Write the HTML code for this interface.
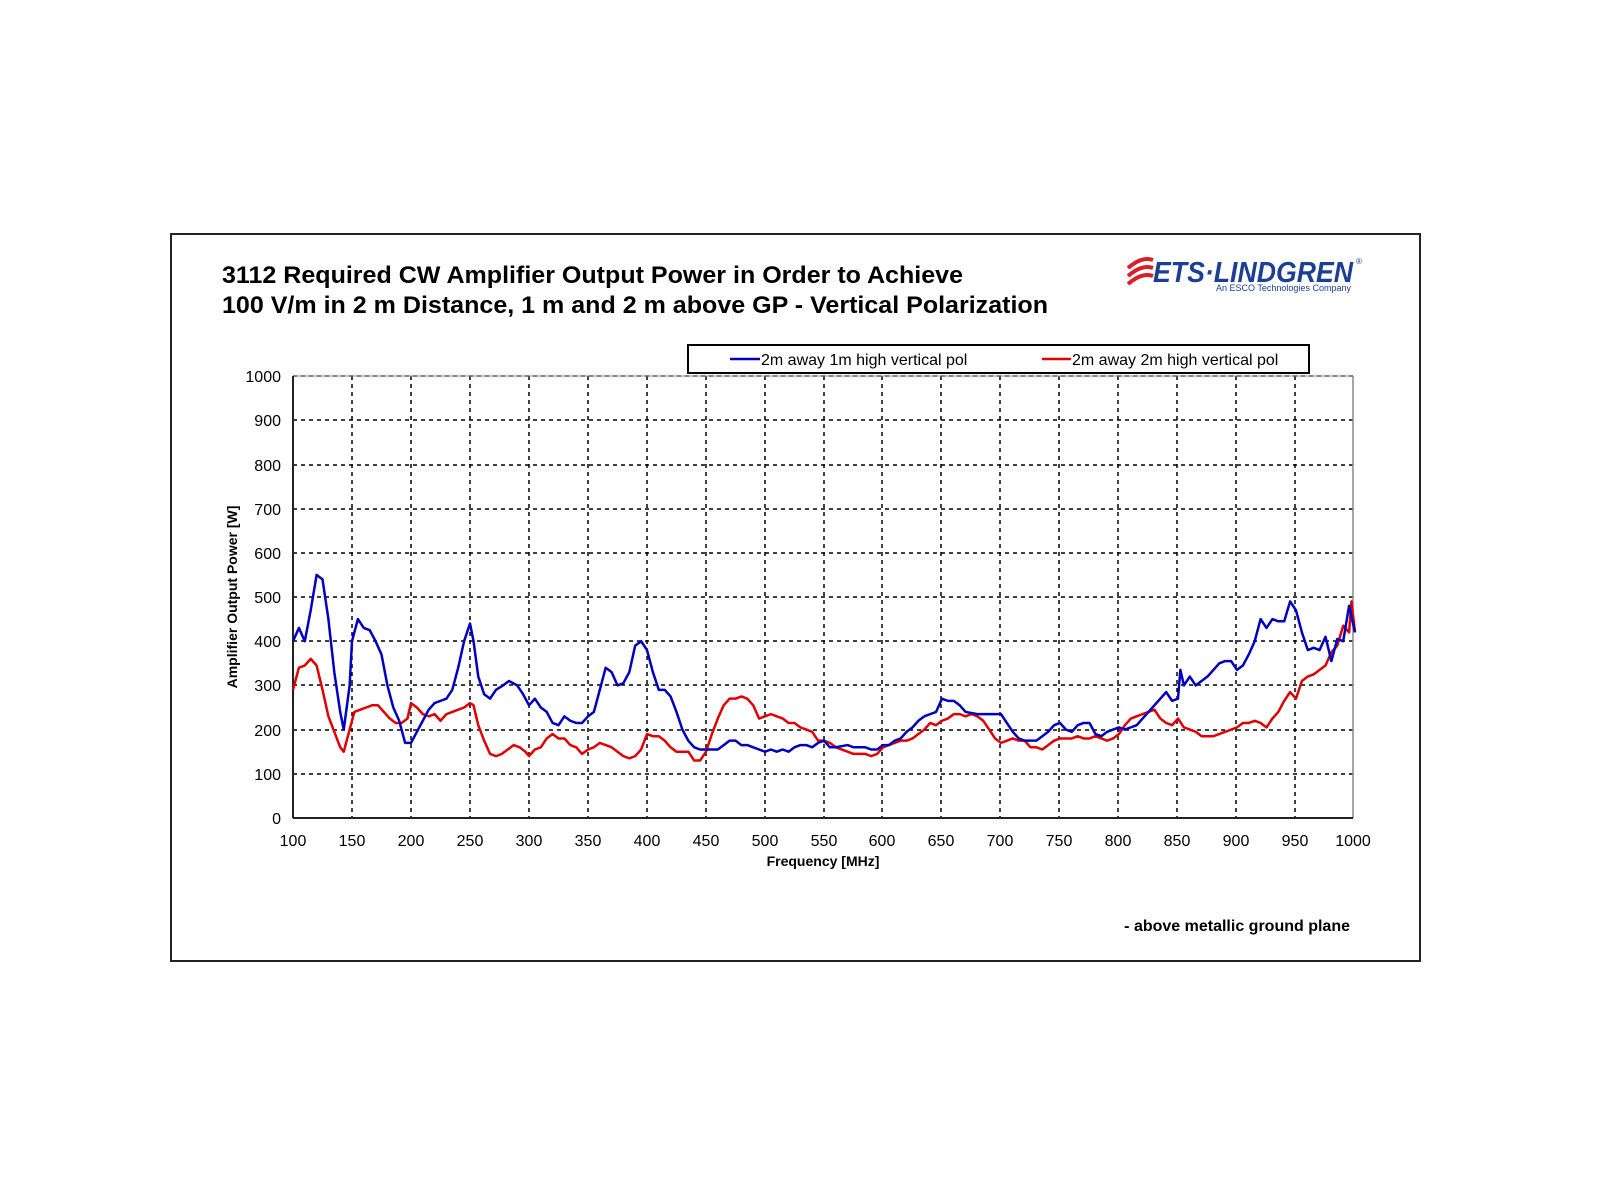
<!DOCTYPE html>
<html><head><meta charset="utf-8"><style>
body{margin:0;background:#fff;width:1600px;height:1200px;overflow:hidden}
svg{display:block}
text{font-family:"Liberation Sans",Arial,sans-serif}
</style></head><body>
<svg width="1600" height="1200" viewBox="0 0 1600 1200">
<rect x="171" y="234" width="1249" height="727" fill="#fff" stroke="#222" stroke-width="2"/>
<text x="222" y="283" font-size="24" font-weight="bold" fill="#000" textLength="741" lengthAdjust="spacingAndGlyphs">3112 Required CW Amplifier Output Power in Order to Achieve</text>
<text x="222" y="313" font-size="24" font-weight="bold" fill="#000" textLength="826" lengthAdjust="spacingAndGlyphs">100 V/m in 2 m Distance, 1 m and 2 m above GP - Vertical Polarization</text>
<!-- logo -->
<g fill="#d8202a">
<path d="M1128 268 q14 -12 25 -8" stroke="#d8202a" stroke-width="4" fill="none"/>
<path d="M1128 276 q14 -12 25 -8" stroke="#d8202a" stroke-width="4" fill="none"/>
<path d="M1128 284 q14 -12 25 -8" stroke="#d8202a" stroke-width="4" fill="none"/>
</g>
<text x="1153" y="282" font-size="29" font-weight="bold" font-style="italic" fill="#1c3f94" textLength="200" lengthAdjust="spacingAndGlyphs">ETS·LINDGREN</text>
<text x="1356" y="264" font-size="8" fill="#1c3f94">®</text>
<text x="1216" y="291" font-size="9" fill="#1c3f94" textLength="135" lengthAdjust="spacingAndGlyphs">An ESCO Technologies Company</text>
<!-- legend -->
<rect x="688" y="345" width="621" height="28" fill="#fff" stroke="#000" stroke-width="2"/>
<line x1="730" y1="359" x2="760" y2="359" stroke="#0000c0" stroke-width="2.5"/>
<text x="761" y="365" font-size="16" fill="#000">2m away 1m high vertical pol</text>
<line x1="1042" y1="359" x2="1071" y2="359" stroke="#e00000" stroke-width="2.5"/>
<text x="1072" y="365" font-size="16" fill="#000">2m away 2m high vertical pol</text>
<!-- grid -->
<g stroke="#000" stroke-width="1.5" stroke-dasharray="4,4">
<line x1="293" x2="1353" y1="376" y2="376"/><line x1="293" x2="1353" y1="420" y2="420"/><line x1="293" x2="1353" y1="465" y2="465"/><line x1="293" x2="1353" y1="509" y2="509"/><line x1="293" x2="1353" y1="553" y2="553"/><line x1="293" x2="1353" y1="597" y2="597"/><line x1="293" x2="1353" y1="641" y2="641"/><line x1="293" x2="1353" y1="685" y2="685"/><line x1="293" x2="1353" y1="730" y2="730"/><line x1="293" x2="1353" y1="774" y2="774"/>
<line y1="376" y2="818" x1="352" x2="352"/><line y1="376" y2="818" x1="411" x2="411"/><line y1="376" y2="818" x1="470" x2="470"/><line y1="376" y2="818" x1="529" x2="529"/><line y1="376" y2="818" x1="588" x2="588"/><line y1="376" y2="818" x1="647" x2="647"/><line y1="376" y2="818" x1="706" x2="706"/><line y1="376" y2="818" x1="765" x2="765"/><line y1="376" y2="818" x1="824" x2="824"/><line y1="376" y2="818" x1="882" x2="882"/><line y1="376" y2="818" x1="941" x2="941"/><line y1="376" y2="818" x1="1000" x2="1000"/><line y1="376" y2="818" x1="1059" x2="1059"/><line y1="376" y2="818" x1="1118" x2="1118"/><line y1="376" y2="818" x1="1177" x2="1177"/><line y1="376" y2="818" x1="1236" x2="1236"/><line y1="376" y2="818" x1="1295" x2="1295"/>
</g>
<line x1="293" y1="376" x2="1353" y2="376" stroke="#888" stroke-width="1"/>
<line x1="1353" y1="376" x2="1353" y2="818" stroke="#888" stroke-width="1.5"/>
<line x1="293" y1="376" x2="293" y2="818" stroke="#222" stroke-width="2"/>
<line x1="293" y1="818" x2="1353" y2="818" stroke="#222" stroke-width="2"/>
<g font-size="16" fill="#000" text-anchor="end">
<text x="281" y="382">1000</text><text x="281" y="426">900</text><text x="281" y="471">800</text><text x="281" y="515">700</text><text x="281" y="559">600</text><text x="281" y="603">500</text><text x="281" y="647">400</text><text x="281" y="691">300</text><text x="281" y="736">200</text><text x="281" y="780">100</text><text x="281" y="824">0</text>
</g>
<g font-size="16" fill="#000" text-anchor="middle">
<text x="293" y="846">100</text><text x="352" y="846">150</text><text x="411" y="846">200</text><text x="470" y="846">250</text><text x="529" y="846">300</text><text x="588" y="846">350</text><text x="647" y="846">400</text><text x="706" y="846">450</text><text x="765" y="846">500</text><text x="824" y="846">550</text><text x="882" y="846">600</text><text x="941" y="846">650</text><text x="1000" y="846">700</text><text x="1059" y="846">750</text><text x="1118" y="846">800</text><text x="1177" y="846">850</text><text x="1236" y="846">900</text><text x="1295" y="846">950</text><text x="1353" y="846">1000</text>
</g>
<text x="823" y="866" font-size="14" font-weight="bold" text-anchor="middle">Frequency [MHz]</text>
<text transform="translate(237,597) rotate(-90)" font-size="14" font-weight="bold" text-anchor="middle">Amplifier Output Power [W]</text>
<text x="1350" y="931" font-size="16" font-weight="bold" text-anchor="end">- above metallic ground plane</text>
<g transform="translate(293,818) scale(1.18,-0.442)" fill="none">
<polyline vector-effect="non-scaling-stroke" stroke="#e00000" stroke-width="2.5" stroke-linejoin="round" points="0,290 5,340 10,345 15,360 20,345 25,290 30,230 35,195 40,160 43,150 48,200 52,240 57,245 62,250 67,255 72,255 77,240 82,225 87,215 92,215 97,225 100,260 105,250 110,235 115,230 120,235 125,220 130,235 135,240 140,245 145,250 150,260 153,255 157,210 162,175 167,145 172,140 177,145 182,155 187,165 192,160 197,150 200,140 205,155 210,160 215,180 220,190 225,180 230,180 235,165 240,160 245,145 250,155 255,160 260,170 265,165 270,160 275,150 280,140 285,135 290,140 295,155 300,190 305,185 310,185 315,175 320,160 325,150 330,150 335,150 340,130 345,130 350,150 355,190 360,225 365,255 370,270 375,270 380,275 385,270 390,255 395,225 400,230 405,235 410,230 415,225 420,215 425,215 430,205 435,200 440,195 445,175 450,175 455,170 460,160 470,150 475,145 480,145 485,145 490,140 495,145 500,160 505,165 510,170 515,175 520,175 525,180 530,190 535,200 540,215 545,210 550,220 555,225 560,235 565,235 570,230 575,235 580,230 585,220 590,200 595,180 600,170 605,175 610,180 615,175 620,175 625,160 630,160 635,155 640,165 645,175 650,180 660,180 665,185 670,180 675,180 680,185 685,180 690,175 695,180 700,190 705,210 710,225 715,230 720,235 725,240 730,245 735,225 740,215 745,210 750,225 755,205 760,200 765,195 770,185 780,185 790,195 800,205 805,215 810,215 815,220 820,215 825,205 830,225 835,240 840,265 845,285 850,270 855,310 860,320 865,325 870,335 875,345 880,375 885,390 890,435 895,420 897,490 900,420"/>
<polyline vector-effect="non-scaling-stroke" stroke="#0000c0" stroke-width="2.5" stroke-linejoin="round" points="0,400 5,430 10,400 15,470 20,550 25,540 30,450 35,330 40,240 43,200 48,300 50,400 55,450 60,430 65,425 70,400 75,370 80,300 85,250 90,220 95,170 100,170 105,195 110,220 115,245 120,260 125,265 130,270 135,290 140,340 145,400 150,440 153,400 157,320 162,280 167,270 172,290 178,300 183,310 190,300 195,280 200,255 205,270 210,250 215,240 220,215 225,210 230,230 235,220 240,215 245,215 250,230 255,240 260,290 265,340 270,330 275,300 280,305 285,330 290,390 295,400 300,380 305,330 310,290 315,290 320,275 325,240 330,200 335,175 340,160 345,155 360,155 365,165 370,175 375,175 380,165 385,165 390,160 395,155 400,150 405,155 410,150 415,155 420,150 425,160 430,165 435,165 440,160 445,170 450,175 455,160 460,160 470,165 475,160 485,160 490,155 495,155 500,165 505,165 510,175 515,180 520,195 525,205 530,220 535,230 540,235 545,240 550,270 555,265 560,265 565,255 570,240 580,235 600,235 605,215 610,195 615,180 620,175 630,175 635,185 640,195 645,210 650,215 655,200 660,195 665,210 670,215 675,215 680,190 685,185 690,195 695,200 700,205 705,200 710,205 715,210 720,225 725,240 730,255 735,270 740,285 745,265 750,270 752,335 755,300 760,320 765,300 770,310 775,320 780,335 785,350 790,355 795,355 800,335 805,345 810,370 815,400 820,450 825,430 830,450 835,445 840,445 845,490 850,470 855,420 860,380 865,385 870,380 875,410 880,355 885,405 890,400 895,480 900,420"/>
</g>
</svg>
</body></html>
